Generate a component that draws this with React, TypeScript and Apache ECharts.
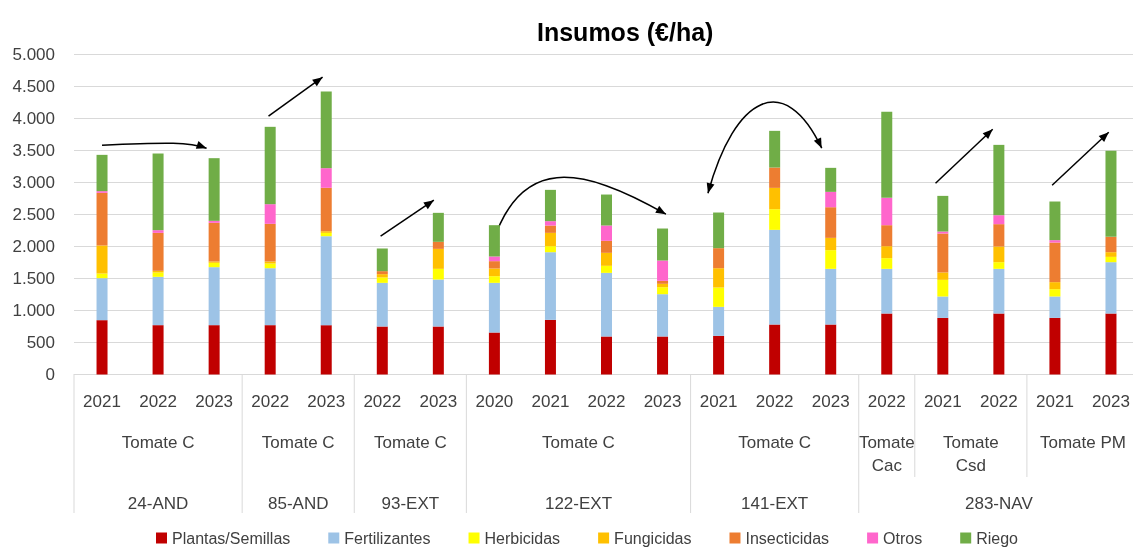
import React, { useEffect, useRef } from "react";
import * as echarts from "echarts";

const years = ["2021", "2022", "2023", "2022", "2023", "2022", "2023", "2020", "2021", "2022", "2023", "2021", "2022", "2023", "2022", "2021", "2022", "2021", "2023"];
const cropLabels = ["Tomate C", "Tomate C", "Tomate C", "Tomate C", "Tomate C", "Tomate\nCac", "Tomate\nCsd", "Tomate PM"];
const cropCounts = [3, 2, 2, 4, 3, 1, 2, 2];
const regionLabels = ["24-AND", "85-AND", "93-EXT", "122-EXT", "141-EXT", "283-NAV"];
const regionCounts = [3, 2, 2, 4, 3, 5];

const seriesNames = ["Plantas/Semillas", "Fertilizantes", "Herbicidas", "Fungicidas", "Insecticidas", "Otros", "Riego"];
const seriesColors = ["#C00000", "#9DC3E6", "#FFFF00", "#FFC000", "#ED7D31", "#FF66CC", "#70AD47"];

const plantas = [849, 771, 771, 771, 771, 750, 750, 656, 854, 594, 594, 604, 781, 781, 953, 885, 953, 885, 953];
const fertilizantes = [656, 755, 906, 890, 1390, 682, 734, 776, 1057, 994, 661, 453, 1479, 870, 698, 334, 698, 334, 802];
const herbicidas = [73, 68, 68, 73, 52, 84, 167, 104, 94, 110, 109, 302, 323, 292, 167, 260, 104, 114, 83];
const fungicidas = [438, 26, 21, 32, 26, 52, 312, 120, 208, 203, 53, 302, 333, 192, 187, 115, 245, 110, 73];
const insecticidas = [822, 593, 604, 588, 678, 47, 110, 115, 115, 187, 46, 313, 318, 479, 328, 609, 349, 619, 240];
const otros = [27, 42, 31, 307, 307, 0, 0, 73, 68, 240, 318, 0, 0, 240, 427, 31, 140, 37, 0];
const riego = [567, 1198, 979, 1209, 1198, 354, 453, 489, 489, 484, 500, 557, 573, 375, 1344, 557, 1099, 604, 1344];

const seriesValues = [plantas, fertilizantes, herbicidas, fungicidas, insecticidas, otros, riego];

// Annotation arrows in data space: [category index (fractional), value]
type Arrow = { from: number[]; to: number[]; c1?: number[]; c2?: number[]; startHead?: boolean };
const arrows: Arrow[] = [
  { from: [0, 3583], c1: [1.2, 3630], c2: [1.56, 3630], to: [1.865, 3536] },
  { from: [2.97, 4036], to: [3.935, 4645] },
  { from: [4.97, 2161], to: [5.92, 2723] },
  { from: [6.95, 2003], c1: [7.45, 3427], c2: [8.52, 3271], to: [10.06, 2505] },
  { from: [10.81, 2833], c1: [11.29, 4364], c2: [12.18, 4755], to: [12.84, 3536], startHead: true },
  { from: [14.87, 2989], to: [15.89, 3833] },
  { from: [16.95, 2958], to: [17.96, 3786] },
];

const FONT = "'Liberation Sans', Arial, sans-serif";
const TEXT = "#404040";
const GRID = "#D9D9D9";

function fmt(v: number) {
  return String(v).replace(/\B(?=(\d{3})+(?!\d))/g, ".");
}

export default function App() {
  const ref = useRef<HTMLDivElement>(null);
  useEffect(() => {
    if (!ref.current) return;
    const chart = echarts.init(ref.current, undefined, { renderer: "svg" });
    chart.setOption({
      animation: false,
      textStyle: { fontFamily: FONT },
      title: {
        text: "Insumos (€/ha)",
        left: 532,
        top: 14,
        textStyle: { fontFamily: FONT, fontSize: 25, fontWeight: "bold", color: "#000" },
      },
      legend: {
        left: 151,
        top: 525,
        icon: "rect",
        itemWidth: 11,
        itemHeight: 11,
        itemGap: 38,
        textStyle: { fontFamily: FONT, fontSize: 16, color: TEXT },
        data: seriesNames,
      },
      grid: { left: 74, top: 54.5, width: 1065, height: 320, containLabel: false },
      xAxis: {
        type: "category",
        data: years,
        axisLine: { lineStyle: { color: GRID, width: 1 } },
        axisTick: { show: false },
        axisLabel: { interval: 0, fontSize: 17, color: TEXT, margin: 18, fontFamily: FONT },
      },
      yAxis: {
        type: "value",
        min: 0,
        max: 5000,
        interval: 500,
        axisLine: { show: false },
        axisTick: { show: false },
        splitLine: { lineStyle: { color: GRID, width: 1 } },
        axisLabel: { fontSize: 17, color: TEXT, margin: 19, fontFamily: FONT, formatter: (v: number) => fmt(v) },
      },
      series: seriesNames.map((name, i) => ({
        name,
        type: "bar",
        stack: "total",
        barWidth: 11,
        itemStyle: { color: seriesColors[i] },
        data: seriesValues[i],
      })),
    });

    const px0 = chart.convertToPixel({ xAxisIndex: 0 }, 0) as number;
    const px1 = chart.convertToPixel({ xAxisIndex: 0 }, 1) as number;
    const band = px1 - px0;
    const xAt = (idx: number) => px0 + idx * band;
    const yAt = (v: number) => chart.convertToPixel({ yAxisIndex: 0 }, v) as number;
    const axisY = yAt(0);
    const edge = (k: number) => xAt(k) - band / 2;

    const g: any[] = [];
    let k = 0;
    const regionEdges = new Set<number>();
    let r = 0;
    regionEdges.add(0);
    regionCounts.forEach((c) => {
      r += c;
      regionEdges.add(r);
    });
    cropCounts.forEach((c, i) => {
      const cx = (edge(k) + edge(k + c)) / 2;
      g.push({
        type: "text",
        x: cx,
        y: 430.5,
        style: { text: cropLabels[i], fontSize: 17, fontFamily: FONT, fill: TEXT, align: "center", verticalAlign: "top", lineHeight: 23 },
      });
      if (!regionEdges.has(k)) {
        g.push({ type: "line", shape: { x1: edge(k), y1: axisY, x2: edge(k), y2: 477 }, style: { stroke: GRID, lineWidth: 1 } });
      }
      k += c;
    });
    k = 0;
    regionCounts.forEach((c, i) => {
      const cx = (edge(k) + edge(k + c)) / 2;
      g.push({
        type: "text",
        x: cx,
        y: 503,
        style: { text: regionLabels[i], fontSize: 17, fontFamily: FONT, fill: TEXT, align: "center", verticalAlign: "middle" },
      });
      g.push({ type: "line", shape: { x1: edge(k), y1: axisY, x2: edge(k), y2: 513 }, style: { stroke: GRID, lineWidth: 1 } });
      k += c;
    });
    g.push({ type: "line", shape: { x1: edge(k), y1: axisY, x2: edge(k), y2: 513 }, style: { stroke: GRID, lineWidth: 1 } });

    const head = (tip: number[], from: number[]) => {
      const dx = tip[0] - from[0];
      const dy = tip[1] - from[1];
      const len = Math.hypot(dx, dy) || 1;
      const ux = dx / len;
      const uy = dy / len;
      const L = 10;
      const W = 4;
      const bx = tip[0] - ux * L;
      const by = tip[1] - uy * L;
      return {
        type: "polygon",
        shape: { points: [tip, [bx - uy * W, by + ux * W], [bx + uy * W, by - ux * W]] },
        style: { fill: "#000" },
      };
    };

    arrows.forEach((a) => {
      const p0 = [xAt(a.from[0]), yAt(a.from[1])];
      const p3 = [xAt(a.to[0]), yAt(a.to[1])];
      if (a.c1 && a.c2) {
        const p1 = [xAt(a.c1[0]), yAt(a.c1[1])];
        const p2 = [xAt(a.c2[0]), yAt(a.c2[1])];
        g.push({
          type: "bezierCurve",
          shape: { x1: p0[0], y1: p0[1], cpx1: p1[0], cpy1: p1[1], cpx2: p2[0], cpy2: p2[1], x2: p3[0], y2: p3[1] },
          style: { stroke: "#000", lineWidth: 1.5, fill: null },
        });
        g.push(head(p3, p2));
        if (a.startHead) g.push(head(p0, p1));
      } else {
        g.push({ type: "line", shape: { x1: p0[0], y1: p0[1], x2: p3[0], y2: p3[1] }, style: { stroke: "#000", lineWidth: 1.5 } });
        g.push(head(p3, p0));
      }
    });

    chart.setOption({ graphic: g });
    return () => chart.dispose();
  }, []);
  return <div ref={ref} style={{ position: "fixed", left: 0, top: 0, width: 1145, height: 547 }} />;
}
